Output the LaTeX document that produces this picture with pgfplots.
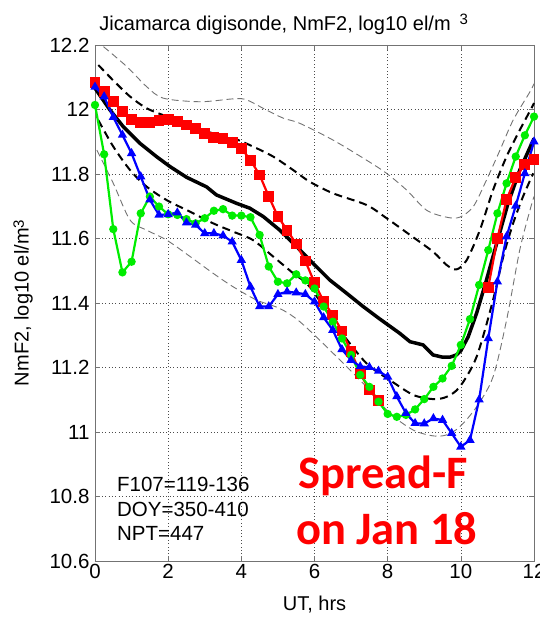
\documentclass[border=0pt]{standalone}
\usepackage{fontspec}
\setmainfont{Liberation Sans}
\newfontfamily\calib{Carlito}
\usepackage{pgfplots}
\pgfplotsset{compat=1.18}

\definecolor{mred}{rgb}{1,0,0}
\definecolor{mgreen}{rgb}{0,0.93,0}
\definecolor{mblue}{rgb}{0,0,1}

\begin{document}
\begin{tikzpicture}
\begin{axis}[
  scale only axis, width=439pt, height=516pt,
  xmin=0, xmax=12, ymin=10.6, ymax=12.2,
  xtick={0,2,4,6,8,10,12},
  ytick={10.6,10.8,11,11.2,11.4,11.6,11.8,12,12.2},
  tick align=inside, major tick length=5pt,
  grid=major,
  grid style={black!70, dash pattern=on 0.8pt off 2.6pt, line width=0.6pt},
  axis line style={black!55, line width=0.7pt},
  tick style={black!55, line width=0.6pt},
  ticklabel style={font=\fontsize{20.5}{22}\selectfont},
  yticklabel style={xshift=-2pt},
  /pgf/number format/assume math mode=true,
  clip=false,
]
% upper and lower thin envelopes
\addplot[black!55, line width=0.9pt, dash pattern=on 7pt off 4pt, smooth] coordinates {
 (0.23,12.195) (0.87,12.133) (1.41,12.071) (1.87,12.035) (2.87,12.024) (3.78,12.033)
 (4.14,12.03) (4.69,11.998) (5.15,11.973) (5.6,11.957) (6.51,11.905) (7.42,11.843)
 (7.97,11.802) (8.52,11.75) (9.06,11.688) (9.61,11.666) (9.97,11.666) (10.34,11.699)
 (10.7,11.781) (11.07,11.874) (11.43,11.967) (11.89,12.055) (12,12.08)};
\addplot[black!55, line width=0.9pt, dash pattern=on 7pt off 4pt, smooth] coordinates {
 (0.05,11.874) (0.5,11.771) (0.96,11.657) (1.41,11.626) (1.96,11.595) (2.6,11.544)
 (3.23,11.492) (3.78,11.45) (4.42,11.409) (5.05,11.383) (5.6,11.342) (6.51,11.244)
 (7.42,11.14) (8.06,11.058) (8.7,11.006) (9.24,10.988) (9.61,10.991) (9.97,11.016)
 (10.43,11.078) (10.88,11.171) (11.25,11.347) (11.61,11.564) (11.89,11.688) (12,11.73)};
% upper and lower standard-deviation curves
\addplot[black, line width=2pt, dash pattern=on 8pt off 5pt, smooth] coordinates {
 (0.09,12.138) (0.5,12.09) (0.96,12.04) (1.41,12.004) (1.96,11.978) (2.6,11.947)
 (3.23,11.926) (3.78,11.911) (4.32,11.885) (4.87,11.854) (5.42,11.812) (5.87,11.776)
 (6.51,11.74) (7.42,11.704) (7.97,11.663) (8.61,11.611) (9.24,11.559) (9.61,11.518)
 (9.88,11.504) (10.16,11.533) (10.52,11.626) (10.88,11.75) (11.25,11.854) (11.61,11.936)
 (11.93,12.004) (12,12.02)};
\addplot[black, line width=2pt, dash pattern=on 8pt off 5pt, smooth] coordinates {
 (0.09,11.967) (0.5,11.885) (0.96,11.812) (1.41,11.761) (1.96,11.719) (2.6,11.683)
 (3.23,11.647) (3.78,11.621) (4.32,11.595) (4.87,11.544) (5.42,11.492) (5.87,11.45)
 (6.69,11.316) (7.42,11.213) (8.06,11.161) (8.7,11.115) (9.24,11.102) (9.61,11.109)
 (9.97,11.14) (10.43,11.233) (10.88,11.409) (11.16,11.544) (11.43,11.647) (11.7,11.73)
 (11.98,11.802)};
% mean curve
\addplot[black, line width=3.5pt] coordinates {
 (0,12.066) (0.4,12.0) (0.77,11.947) (1.23,11.895) (1.68,11.854) (2.05,11.823)
 (2.5,11.79) (3.05,11.76) (3.32,11.735) (3.87,11.709) (4.23,11.694) (4.6,11.668)
 (5.05,11.626) (5.51,11.575) (5.96,11.523) (6.42,11.471) (6.88,11.43) (7.33,11.389)
 (7.79,11.35) (8.33,11.306) (8.61,11.28) (8.97,11.27) (9.24,11.239) (9.5,11.232)
 (9.7,11.232) (9.88,11.239) (10.0,11.252) (10.2,11.295) (10.43,11.368) (10.7,11.471)
 (10.98,11.585) (11.29,11.709) (11.61,11.812) (12.0,11.91)};
% individual days
\addplot[mred, line width=2.2pt, mark=square*, mark size=4.3pt] coordinates {
 (0,12.083) (0.25,12.055) (0.5,12.024) (0.75,11.993) (1.0,11.97) (1.25,11.96)
 (1.5,11.96) (1.75,11.967) (2.0,11.97) (2.25,11.964) (2.5,11.952) (2.75,11.94)
 (3.0,11.926) (3.25,11.914) (3.5,11.91) (3.75,11.897) (4.0,11.88) (4.25,11.843)
 (4.5,11.797) (4.75,11.73) (5.0,11.668) (5.25,11.626) (5.5,11.583) (5.75,11.53)
 (6.0,11.463) (6.25,11.404) (6.5,11.363) (6.75,11.313) (7.0,11.249) (7.25,11.182)
 (7.5,11.13) (7.75,11.097)};
\addplot[mred, line width=2.2pt, mark=square*, mark size=4.3pt] coordinates {
 (10.75,11.449) (11.0,11.6) (11.25,11.72) (11.5,11.79) (11.75,11.83) (12.0,11.845)};
\addplot[mgreen, line width=2.2pt, mark=*, mark size=3pt] coordinates {
 (0,12.014) (0.25,11.861) (0.5,11.629) (0.75,11.495) (1.0,11.528) (1.25,11.678)
 (1.5,11.73) (1.75,11.699) (2.0,11.675) (2.25,11.673) (2.5,11.66) (2.75,11.647)
 (3.0,11.663) (3.25,11.686) (3.5,11.691) (3.75,11.671) (4.0,11.671) (4.25,11.666)
 (4.5,11.611) (4.75,11.513) (5.0,11.466) (5.25,11.461) (5.5,11.489) (5.75,11.47)
 (6.0,11.445) (6.25,11.389) (6.5,11.342) (6.75,11.29) (7.0,11.239) (7.25,11.177)
 (7.5,11.14) (7.75,11.094) (8.0,11.056) (8.25,11.047) (8.5,11.053) (8.75,11.07)
 (9.0,11.102) (9.25,11.14) (9.5,11.166) (9.75,11.205) (10.0,11.27) (10.25,11.35)
 (10.5,11.456) (10.75,11.564) (11.0,11.678) (11.25,11.771) (11.5,11.854) (11.75,11.92)
 (12.0,11.978)};
\addplot[mblue, line width=2.2pt, mark=triangle*, mark size=3.2pt] coordinates {
 (0,12.07) (0.25,12.04) (0.5,11.976) (0.75,11.921) (1.0,11.864) (1.25,11.792)
 (1.5,11.72) (1.75,11.673) (2.0,11.675) (2.25,11.68) (2.5,11.649) (2.75,11.642)
 (3.0,11.616) (3.25,11.616) (3.5,11.609) (3.75,11.59) (4.0,11.533) (4.25,11.45)
 (4.5,11.389) (4.75,11.389) (5.0,11.427) (5.25,11.435) (5.5,11.432) (5.75,11.427)
 (6.0,11.404) (6.25,11.355) (6.5,11.316) (6.75,11.256) (7.0,11.223) (7.25,11.203)
 (7.5,11.201) (7.75,11.189) (8.0,11.171) (8.25,11.11) (8.5,11.058) (8.75,11.027)
 (9.0,11.026) (9.25,11.042) (9.5,11.037) (9.75,10.996) (10.0,10.954) (10.25,10.975)
 (10.5,11.1) (10.75,11.29) (11.0,11.466) (11.25,11.606) (11.5,11.701) (11.75,11.802)
 (12.0,11.9)};

% text annotations
\node[anchor=base west, font=\fontsize{20.5}{22}\selectfont, inner sep=0pt] at (axis cs:0.6,10.817) {F107=119-136};
\node[anchor=base west, font=\fontsize{20.5}{22}\selectfont, inner sep=0pt] at (axis cs:0.6,10.739) {DOY=350-410};
\node[anchor=base west, font=\fontsize{20.5}{22}\selectfont, inner sep=0pt] at (axis cs:0.6,10.665) {NPT=447};
\node[anchor=base west, font=\calib\bfseries\fontsize{46.5}{50}\selectfont, text=mred, inner sep=0pt] at (axis cs:5.55,10.826) {Spread-F};
\node[anchor=base west, font=\calib\bfseries\fontsize{46.5}{50}\selectfont, text=mred, inner sep=0pt] at (axis cs:5.49,10.65) {on Jan 18};

% title and axis labels
\node[font=\fontsize{20}{22}\selectfont, inner sep=0pt] at ([yshift=21pt]axis description cs:0.43,1)
  {Jicamarca digisonde, NmF2, log10 el/m\hspace{0.45em}\raisebox{0.55ex}{\fontsize{15}{16}\selectfont 3}};
\node[font=\fontsize{20}{22}\selectfont, inner sep=0pt, rotate=90] at ([xshift=-72pt]axis description cs:0,0.5)
  {NmF2, log10 el/m\raisebox{0.45ex}{\fontsize{15}{16}\selectfont 3}};
\node[font=\fontsize{20}{22}\selectfont, inner sep=0pt] at ([yshift=-44pt]axis description cs:0.5,0) {UT, hrs};
\end{axis}
\pgfresetboundingbox
\path[use as bounding box] (-95pt,-59pt) rectangle (444pt,561pt);
\end{tikzpicture}
\end{document}
